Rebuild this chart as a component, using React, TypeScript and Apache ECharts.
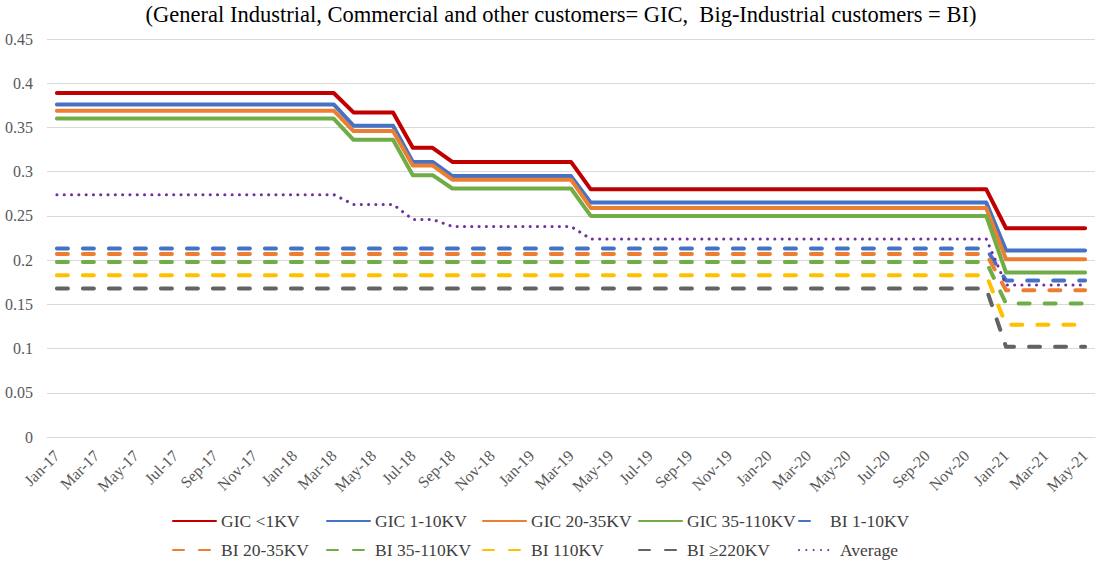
import React, { useEffect, useRef } from "react";
import * as echarts from "echarts";

const TITLE = "(General Industrial, Commercial and other customers= GIC,  Big-Industrial customers = BI)";

const months = [
  "Jan-17","Feb-17","Mar-17","Apr-17","May-17","Jun-17","Jul-17","Aug-17","Sep-17","Oct-17","Nov-17","Dec-17",
  "Jan-18","Feb-18","Mar-18","Apr-18","May-18","Jun-18","Jul-18","Aug-18","Sep-18","Oct-18","Nov-18","Dec-18",
  "Jan-19","Feb-19","Mar-19","Apr-19","May-19","Jun-19","Jul-19","Aug-19","Sep-19","Oct-19","Nov-19","Dec-19",
  "Jan-20","Feb-20","Mar-20","Apr-20","May-20","Jun-20","Jul-20","Aug-20","Sep-20","Oct-20","Nov-20","Dec-20",
  "Jan-21","Feb-21","Mar-21","Apr-21","May-21",
];

const yTicks = [0, 0.05, 0.1, 0.15, 0.2, 0.25, 0.3, 0.35, 0.4, 0.45];

const gicLt1 = [
  0.389,0.389,0.389,0.389,0.389,0.389,0.389,0.389,0.389,0.389,0.389,0.389,0.389,0.389,0.389,
  0.367,0.367,0.367,
  0.327,0.327,
  0.311,0.311,0.311,0.311,0.311,0.311,0.311,
  0.28,0.28,0.28,0.28,0.28,0.28,0.28,
  0.28,0.28,0.28,0.28,0.28,0.28,0.28,
  0.28,0.28,0.28,0.28,0.28,0.28,0.28,
  0.236,0.236,0.236,0.236,0.236,
];
const gic1to10 = [
  0.376,0.376,0.376,0.376,0.376,0.376,0.376,0.376,0.376,0.376,0.376,0.376,0.376,0.376,0.376,
  0.352,0.352,0.352,
  0.311,0.311,
  0.295,0.295,0.295,0.295,0.295,0.295,0.295,
  0.265,0.265,0.265,0.265,0.265,0.265,0.265,
  0.265,0.265,0.265,0.265,0.265,0.265,0.265,
  0.265,0.265,0.265,0.265,0.265,0.265,0.265,
  0.211,0.211,0.211,0.211,0.211,
];
const gic20to35 = [
  0.369,0.369,0.369,0.369,0.369,0.369,0.369,0.369,0.369,0.369,0.369,0.369,0.369,0.369,0.369,
  0.346,0.346,0.346,
  0.307,0.307,
  0.291,0.291,0.291,0.291,0.291,0.291,0.291,
  0.259,0.259,0.259,0.259,0.259,0.259,0.259,
  0.259,0.259,0.259,0.259,0.259,0.259,0.259,
  0.259,0.259,0.259,0.259,0.259,0.259,0.259,
  0.201,0.201,0.201,0.201,0.201,
];
const gic35to110 = [
  0.36,0.36,0.36,0.36,0.36,0.36,0.36,0.36,0.36,0.36,0.36,0.36,0.36,0.36,0.36,
  0.336,0.336,0.336,
  0.296,0.296,
  0.281,0.281,0.281,0.281,0.281,0.281,0.281,
  0.25,0.25,0.25,0.25,0.25,0.25,0.25,
  0.25,0.25,0.25,0.25,0.25,0.25,0.25,
  0.25,0.25,0.25,0.25,0.25,0.25,0.25,
  0.186,0.186,0.186,0.186,0.186,
];
const bi1to10 = [
  0.213,0.213,0.213,0.213,0.213,0.213,0.213,0.213,0.213,0.213,0.213,0.213,
  0.213,0.213,0.213,0.213,0.213,0.213,0.213,0.213,0.213,0.213,0.213,0.213,
  0.213,0.213,0.213,0.213,0.213,0.213,0.213,0.213,0.213,0.213,0.213,0.213,
  0.213,0.213,0.213,0.213,0.213,0.213,0.213,0.213,0.213,0.213,0.213,0.213,
  0.177,0.177,0.177,0.177,0.177,
];
const bi20to35 = [
  0.207,0.207,0.207,0.207,0.207,0.207,0.207,0.207,0.207,0.207,0.207,0.207,
  0.207,0.207,0.207,0.207,0.207,0.207,0.207,0.207,0.207,0.207,0.207,0.207,
  0.207,0.207,0.207,0.207,0.207,0.207,0.207,0.207,0.207,0.207,0.207,0.207,
  0.207,0.207,0.207,0.207,0.207,0.207,0.207,0.207,0.207,0.207,0.207,0.207,
  0.166,0.166,0.166,0.166,0.166,
];
const bi35to110 = [
  0.198,0.198,0.198,0.198,0.198,0.198,0.198,0.198,0.198,0.198,0.198,0.198,
  0.198,0.198,0.198,0.198,0.198,0.198,0.198,0.198,0.198,0.198,0.198,0.198,
  0.198,0.198,0.198,0.198,0.198,0.198,0.198,0.198,0.198,0.198,0.198,0.198,
  0.198,0.198,0.198,0.198,0.198,0.198,0.198,0.198,0.198,0.198,0.198,0.198,
  0.151,0.151,0.151,0.151,0.151,
];
const bi110 = [
  0.183,0.183,0.183,0.183,0.183,0.183,0.183,0.183,0.183,0.183,0.183,0.183,
  0.183,0.183,0.183,0.183,0.183,0.183,0.183,0.183,0.183,0.183,0.183,0.183,
  0.183,0.183,0.183,0.183,0.183,0.183,0.183,0.183,0.183,0.183,0.183,0.183,
  0.183,0.183,0.183,0.183,0.183,0.183,0.183,0.183,0.183,0.183,0.183,0.183,
  0.127,0.127,0.127,0.127,0.127,
];
const bi220 = [
  0.168,0.168,0.168,0.168,0.168,0.168,0.168,0.168,0.168,0.168,0.168,0.168,
  0.168,0.168,0.168,0.168,0.168,0.168,0.168,0.168,0.168,0.168,0.168,0.168,
  0.168,0.168,0.168,0.168,0.168,0.168,0.168,0.168,0.168,0.168,0.168,0.168,
  0.168,0.168,0.168,0.168,0.168,0.168,0.168,0.168,0.168,0.168,0.168,0.168,
  0.102,0.102,0.102,0.102,0.102,
];
const average = [
  0.274,0.274,0.274,0.274,0.274,0.274,0.274,0.274,0.274,0.274,0.274,0.274,0.274,0.274,0.274,
  0.263,0.263,0.263,
  0.246,0.246,
  0.238,0.238,0.238,0.238,0.238,0.238,0.238,
  0.224,0.224,0.224,0.224,0.224,0.224,0.224,
  0.224,0.224,0.224,0.224,0.224,0.224,0.224,
  0.224,0.224,0.224,0.224,0.224,0.224,0.224,
  0.172,0.172,0.172,0.172,0.172,
];

const seriesNames = [
  "GIC <1KV", "GIC 1-10KV", "GIC 20-35KV", "GIC 35-110KV", "BI 1-10KV",
  "BI 20-35KV", "BI 35-110KV", "BI 110KV", "BI \u2265220KV", "Average",
];
const seriesValues = [gicLt1, gic1to10, gic20to35, gic35to110, bi1to10, bi20to35, bi35to110, bi110, bi220, average];

const FONT = "Liberation Serif";

const styles = [
  { color: "#C00000", kind: "solid" },
  { color: "#4472C4", kind: "solid" },
  { color: "#ED7D31", kind: "solid" },
  { color: "#70AD47", kind: "solid" },
  { color: "#4472C4", kind: "dash" },
  { color: "#ED7D31", kind: "dash" },
  { color: "#70AD47", kind: "dash" },
  { color: "#FFC000", kind: "dash" },
  { color: "#636363", kind: "dash" },
  { color: "#7030A0", kind: "dot" },
];

const legendPos = [
  { left: 172, top: 512, w: 43 },
  { left: 326, top: 512, w: 43 },
  { left: 482, top: 512, w: 43 },
  { left: 638, top: 512, w: 43 },
  { left: 798, top: 512, w: 26 },
  { left: 172, top: 541, w: 43 },
  { left: 326, top: 541, w: 43 },
  { left: 482, top: 541, w: 43 },
  { left: 638, top: 541, w: 43 },
  { left: 798, top: 541, w: 36 },
];

export default function App() {
  const ref = useRef<HTMLDivElement>(null);
  useEffect(() => {
    if (!ref.current) return;
    const chart = echarts.init(ref.current, undefined, { renderer: "svg" });
    const lineStyleFor = (s: { color: string; kind: string }) => {
      if (s.kind === "solid") return { color: s.color, width: 4, type: "solid" as any, cap: "round" as any, join: "round" as any };
      if (s.kind === "dash") return { color: s.color, width: 4, type: [11, 15] as any, cap: "round" as any, join: "round" as any };
      return { color: s.color, width: 3, type: [0.1, 7.2] as any, cap: "round" as any, join: "round" as any };
    };
    const option: any = {
      animation: false,
      backgroundColor: "#ffffff",
      textStyle: { fontFamily: FONT },
      graphic: [
        {
          type: "text",
          x: 561,
          y: 3,
          style: {
            text: TITLE,
            align: "center",
            verticalAlign: "top",
            font: `22.5px "Liberation Serif"`,
            fill: "#000000",
          },
        },
      ],
      legend: seriesNames.map((name, i) => ({
        data: [name],
        left: legendPos[i].left,
        top: legendPos[i].top,
        padding: 0,
        itemWidth: legendPos[i].w,
        itemHeight: 14,
        selectedMode: false,
        itemStyle: { color: "rgba(0,0,0,0)", borderColor: "rgba(0,0,0,0)", borderWidth: 0, opacity: 0 },
        textStyle: { fontSize: 17.5, fontFamily: FONT, color: "#404040" },
      })),
      grid: { left: 47, right: 2, top: 39, bottom: 128, containLabel: false },
      xAxis: {
        type: "category",
        data: months,
        boundaryGap: true,
        axisLine: { show: true, lineStyle: { color: "#d9d9d9", width: 1 } },
        axisTick: { show: false },
        axisLabel: {
          interval: 1,
          rotate: 45,
          fontSize: 16,
          fontFamily: FONT,
          color: "#595959",
          margin: 16,
        },
        splitLine: { show: false },
      },
      yAxis: {
        type: "value",
        min: yTicks[0],
        max: yTicks[yTicks.length - 1],
        interval: 0.05,
        axisLine: { show: false },
        axisTick: { show: false },
        axisLabel: { fontSize: 16, fontFamily: FONT, color: "#595959", margin: 14 },
        splitLine: { lineStyle: { color: "#d9d9d9", width: 1 } },
      },
      series: seriesNames.map((name, i) => ({
        name,
        type: "line",
        data: seriesValues[i],
        symbol: "none",
        showSymbol: false,
        lineStyle: lineStyleFor(styles[i]),
        itemStyle: { color: styles[i].color },
        emphasis: { disabled: true },
      })),
    };
    chart.setOption(option);
    return () => chart.dispose();
  }, []);
  return (
    <div
      ref={ref}
      style={{ position: "absolute", left: 0, top: 0, width: 1097, height: 565 }}
    />
  );
}
